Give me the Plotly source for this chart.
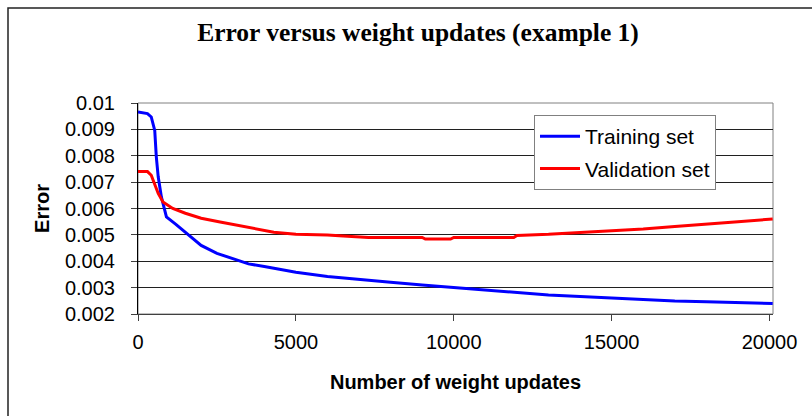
import plotly.graph_objects as go

# ---- data ----
train_x = [0, 300, 420, 530, 580, 640, 740, 900, 1200, 1500, 2000, 2500, 3000, 3500, 4000,
           5000, 6000, 7000, 8000, 9000, 10000, 11000, 12000, 13000, 14000, 15000, 16000,
           17000, 18000, 19000, 20100]
train_y = [0.00966, 0.0096, 0.00947, 0.00896, 0.00796, 0.0072, 0.00644, 0.00568, 0.0054,
           0.0051, 0.0046, 0.0043, 0.0041, 0.0039, 0.0038, 0.00358, 0.00342, 0.0033,
           0.0032, 0.0031, 0.003, 0.0029, 0.0028, 0.00272, 0.00266, 0.0026, 0.00253,
           0.00249, 0.00246, 0.00242, 0.0024]

val_x = [0, 300, 420, 530, 640, 790, 1100, 1500, 2000, 2600, 3100, 3700, 4300, 5000, 6000,
         6500, 7300, 9000, 9100, 9900, 10000, 11900, 12000, 13000, 14000, 15000, 16000,
         17000, 18000, 19000, 20100]
val_y = [0.0074, 0.0074, 0.00726, 0.00695, 0.00657, 0.00625, 0.006, 0.00582, 0.00563,
         0.00549, 0.00537, 0.00522, 0.0051, 0.00502, 0.005, 0.00496, 0.0049, 0.0049,
         0.00484, 0.00484, 0.0049, 0.0049, 0.00498, 0.00502, 0.00508, 0.00514, 0.00522,
         0.00532, 0.00542, 0.0055, 0.0056]

x_ticks = [0, 5000, 10000, 15000, 20000]
x_tick_labels = ["0", "5000", "10000", "15000", "20000"]
y_ticks = [0.002, 0.003, 0.004, 0.005, 0.006, 0.007, 0.008, 0.009, 0.01]
y_tick_labels = ["0.002", "0.003", "0.004", "0.005", "0.006", "0.007", "0.008", "0.009", "0.01"]

fig = go.Figure()
fig.add_trace(go.Scatter(x=train_x, y=train_y, mode="lines", name="Training set",
                         legendgroup="a",
                         line=dict(color="#0000FF", width=3)))
fig.add_trace(go.Scatter(x=val_x, y=val_y, mode="lines", name="Validation set",
                         legendgroup="b",
                         line=dict(color="#FF0000", width=3)))

W, H = 812, 416
L, R, T, B = 138, 39, 103, 102
pw, ph = W - L - R, H - T - B

def px_to_paper_x(px):
    return (px - L) / pw

def px_to_paper_y(py):
    return (H - B - py) / ph

fig.update_layout(
    width=W, height=H,
    margin=dict(l=L, r=R, t=T, b=B, pad=0),
    paper_bgcolor="white", plot_bgcolor="white",
    title=dict(text="<b>Error versus weight updates (example 1)</b>",
               font=dict(family="Liberation Serif", size=25.5, color="black"),
               x=418 / W, xref="container", xanchor="center",
               y=1 - 32 / H, yref="container", yanchor="middle"),
    font=dict(family="Liberation Sans", color="black"),
    showlegend=True,
    legend=dict(x=px_to_paper_x(534), y=px_to_paper_y(115), xanchor="left", yanchor="top",
                bgcolor="white", bordercolor="#808080", borderwidth=1,
                font=dict(family="Liberation Sans", size=21, color="black"),
                tracegroupgap=2, itemwidth=40),
    xaxis=dict(range=[0, 20110], tickvals=x_ticks, ticktext=x_tick_labels,
               showgrid=False, zeroline=False,
               showline=True, linecolor="#404040", linewidth=1,
               ticks="outside", ticklen=6, tickcolor="#404040",
               tickfont=dict(size=20), ticklabelstandoff=4,
               title=dict(text="<b>Number of weight updates</b>",
                          font=dict(size=20), standoff=22)),
    yaxis=dict(range=[0.002, 0.01], tickvals=y_ticks, ticktext=y_tick_labels,
               showgrid=True, gridcolor="#202020", gridwidth=1, zeroline=False,
               showline=True, linecolor="black", linewidth=1,
               ticks="outside", ticklen=6, tickcolor="#404040",
               tickfont=dict(size=20), ticklabelstandoff=12,
               title=dict(text="<b>Error</b>", font=dict(size=20), standoff=9)),
    shapes=[
        dict(type="rect", xref="paper", yref="paper", x0=0, x1=1, y0=0, y1=1,
             line=dict(color="#808080", width=1), layer="below"),
        dict(type="rect", xref="paper", yref="paper",
             x0=px_to_paper_x(8), x1=px_to_paper_x(840),
             y0=px_to_paper_y(440), y1=px_to_paper_y(8),
             line=dict(color="#222222", width=1.5), layer="below"),
    ],
)

fig.write_html("out.html",
               config={"displayModeBar": False},
               post_script="document.body.style.margin='0';document.body.style.overflow='hidden';")
